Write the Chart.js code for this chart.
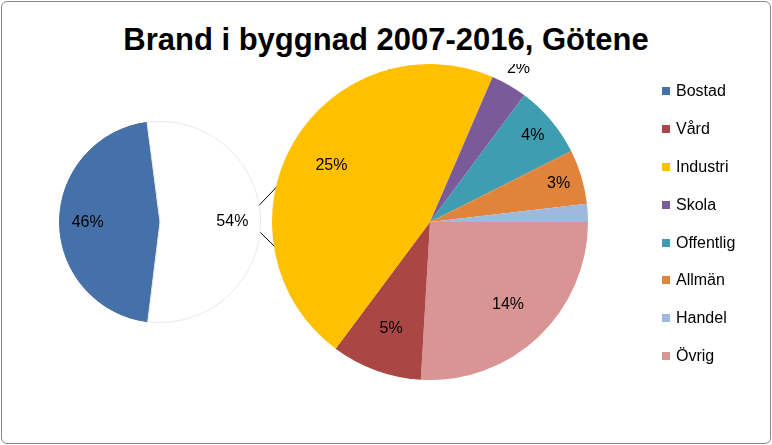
<!DOCTYPE html>
<html>
<head>
<meta charset="utf-8">
<script src="https://cdn.jsdelivr.net/npm/chart.js@4/dist/chart.umd.min.js"></script>
<style>
  body { margin: 0; background: #fff; font-family: "Liberation Sans", "DejaVu Sans", sans-serif; }
  #frame { position: absolute; left: 1px; top: 1px; width: 768px; height: 441px; border: 1px solid #888; border-radius: 6px; background: #fff; }
  #title { position: absolute; left: 0; width: 772px; top: 22px; text-align: center; font-size: 31px; font-weight: bold; color: #000; }
  .pie { position: absolute; }
  #legend { position: absolute; left: 662px; top: 80px; font-size: 16px; color: #000; }
  #legend div { height: 37.9px; line-height: 22px; }
  #legend span { display: inline-block; width: 8px; height: 8px; margin-right: 6px; vertical-align: 1px; }
</style>
</head>
<body>
<div id="frame"></div>
<div id="title">Brand i byggnad 2007-2016, Götene</div>
<canvas id="lines" class="pie" width="772" height="445" style="left:0;top:0"></canvas>
<canvas id="leftPie" class="pie" width="202" height="202" style="left:59px;top:121px"></canvas>
<canvas id="rightPie" class="pie" width="316" height="316" style="left:272px;top:64px"></canvas>
<div id="legend"></div>
<script type="text/javascript">
// legend order
var legendLabels = ['Bostad', 'Vård', 'Industri', 'Skola', 'Offentlig', 'Allmän', 'Handel', 'Övrig'];
var legendColors = ['#4670a8', '#aa4643', '#ffc000', '#7b5a9a', '#3e9db0', '#e0843c', '#9db9de', '#d99594'];

// left pie: Bostad vs rest
var leftLabels = ['Bostad', 'Övriga'];
var leftValues = [46, 54];

// right pie: breakdown of the rest, clockwise from 3 o'clock
var rightLabels = ['Övrig', 'Vård', 'Industri', 'Skola', 'Offentlig', 'Allmän', 'Handel'];
var rightValues = [14, 5, 25, 2, 4, 3, 1];

function colorOf(name) {
	return legendColors[legendLabels.indexOf(name)];
}

var pctLabels = {
	id: 'pctLabels',
	afterDatasetsDraw: function(chart) {
		var ctx = chart.ctx;
		var meta = chart.getDatasetMeta(0);
		var total = chart.data.datasets[0].data.reduce(function(a, b) { return a + b; }, 0);
		ctx.save();
		ctx.font = '16px "Liberation Sans", sans-serif';
		ctx.fillStyle = '#000';
		ctx.textAlign = 'center';
		ctx.textBaseline = 'middle';
		meta.data.forEach(function(arc, i) {
			var v = chart.data.datasets[0].data[i];
			var mid = (arc.startAngle + arc.endAngle) / 2;
			var f = v / total < 0.05 ? 1.12 : 0.72;
			if (chart.canvas.id === 'rightPie' && v >= 3 && v <= 4) f = 0.85;
			var x = arc.x + Math.cos(mid) * arc.outerRadius * f;
			var y = arc.y + Math.sin(mid) * arc.outerRadius * f;
			ctx.fillText(v + '%', x, y);
		});
		ctx.restore();
	}
};

var baseOptions = {
	responsive: false,
	animation: false,
	plugins: { legend: { display: false }, tooltip: { enabled: false } },
	layout: { padding: 0 }
};

var leftChart = new Chart(document.getElementById('leftPie').getContext('2d'), {
	type: 'pie',
	data: {
		labels: leftLabels,
		datasets: [{
			data: leftValues,
			backgroundColor: [colorOf('Bostad'), '#ffffff'],
			borderColor: ['#4670a8', '#e8e8e8'],
			borderWidth: 1
		}]
	},
	options: Object.assign({ rotation: 187 }, baseOptions),
	plugins: [pctLabels]
});

var rightChart = new Chart(document.getElementById('rightPie').getContext('2d'), {
	type: 'pie',
	data: {
		labels: rightLabels,
		datasets: [{
			data: rightValues,
			backgroundColor: rightLabels.map(colorOf),
			borderWidth: 0
		}]
	},
	options: Object.assign({ rotation: 90 }, baseOptions),
	plugins: [pctLabels]
});

// connector lines between the pies
function drawConnectors() {
	var ctx = document.getElementById('lines').getContext('2d');
	var l = leftChart.getDatasetMeta(0).data[1];
	var r = rightChart.getDatasetMeta(0).data[0];
	var lo = { x: 59, y: 121 }, ro = { x: 272, y: 64 };
	var ends = [[l.endAngle, -105], [l.startAngle, 97]];
	ctx.strokeStyle = '#000';
	ctx.lineWidth = 1;
	ends.forEach(function(e) {
		var a2 = e[1] * Math.PI / 180;
		ctx.beginPath();
		ctx.moveTo(lo.x + l.x + Math.cos(e[0]) * l.outerRadius, lo.y + l.y + Math.sin(e[0]) * l.outerRadius);
		ctx.lineTo(ro.x + r.x + Math.cos(a2) * r.outerRadius, ro.y + r.y + Math.sin(a2) * r.outerRadius);
		ctx.stroke();
	});
}
drawConnectors();

var legend = document.getElementById('legend');
legendLabels.forEach(function(name, i) {
	var d = document.createElement('div');
	d.innerHTML = '<span style="background:' + legendColors[i] + '"></span>' + name;
	legend.appendChild(d);
});
</script>
</body>
</html>
